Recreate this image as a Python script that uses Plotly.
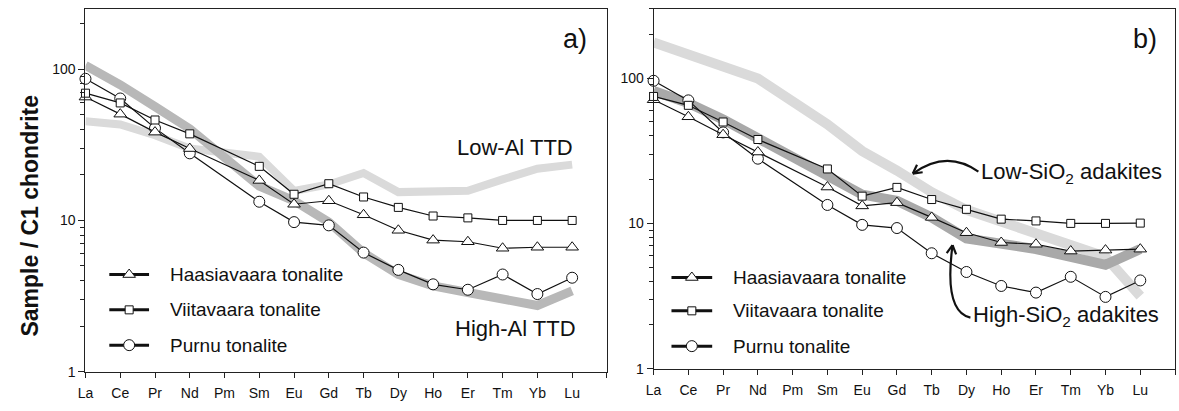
import numpy as np
import plotly.graph_objects as go

elements = ["La", "Ce", "Pr", "Nd", "Pm", "Sm", "Eu", "Gd", "Tb", "Dy", "Ho", "Er", "Tm", "Yb", "Lu"]
N = None

# Panel a)
a_haasiavaara = [65.5, 50.5, 38.4, 29.9, N, 18.4, 12.8, 13.5, 10.9, 8.61, 7.41, 7.23, 6.55, 6.65, 6.65]
a_viitavaara = [69.5, 59.9, 46.2, 37.4, N, 22.8, 14.9, 17.5, 14.3, 12.2, 10.7, 10.4, 10.0, 10.0, 10.0]
a_purnu = [86.5, 64.1, 40.8, 27.8, N, 13.3, 9.75, 9.28, 6.13, 4.71, 3.78, 3.48, 4.39, 3.26, 4.18]
low_al_ttd = [45.3, 43.1, 36.6, 29.9, N, 26.4, 15.7, 17.3, 20.6, 15.4, 15.4, 15.7, 18.7, 22.0, 23.4]
high_al_ttd = [106, 79, 56.6, 40.4, N, 16.9, 13.5, 9.75, 6.1, 4.39, 3.69, 3.34, 3.02, 2.74, 3.42]

# Panel b)
b_haasiavaara = [71.0, 54.2, 40.8, 31.0, N, 17.8, 13.2, 13.9, 11.0, 8.63, 7.39, 7.19, 6.45, 6.55, 6.65]
b_viitavaara = [74.8, 65.0, 49.9, 37.8, N, 23.7, 15.4, 17.7, 14.6, 12.5, 10.7, 10.4, 10.0, 10.0, 10.05]
b_purnu = [95.9, 70.3, 42.3, 27.9, N, 13.4, 9.77, 9.29, 6.23, 4.63, 3.71, 3.34, 4.29, 3.12, 4.05]
low_sio2_adakites = [176, 147, 122, 99.4, N, 48.1, 31.5, 23.1, 16.4, 12.4, 10.3, 8.54, 7.08, 5.88, 3.16]
high_sio2_adakites = [81.6, 67.4, 52.0, 38.7, N, 22.1, 15.8, 14.3, 11.0, 7.89, 7.31, 6.66, 5.88, 5.19, 6.66]

series_names = ["Haasiavaara tonalite", "Viitavaara tonalite", "Purnu tonalite"]
y_ticks = [1, 10, 100]

FONT = "Liberation Sans, Arial, sans-serif"
W, H = 1179, 411
x = list(range(len(elements)))

fig = go.Figure()

def band(xa, ya, vals, color, width):
    fig.add_trace(go.Scatter(x=x, y=vals, mode="lines", connectgaps=True,
                             line=dict(color=color, width=width), xaxis=xa, yaxis=ya,
                             showlegend=False, hoverinfo="skip", cliponaxis=False))

def data(xa, ya, vals, symbol, size):
    fig.add_trace(go.Scatter(x=x, y=vals, mode="lines+markers", connectgaps=True,
                             line=dict(color="#111", width=1.2),
                             marker=dict(symbol=symbol, size=size, color="white",
                                         line=dict(color="#111", width=1)),
                             xaxis=xa, yaxis=ya, showlegend=False, cliponaxis=False))

LIGHT = "#dadada"
DARK_A = "#b8b8b8"
DARK_B = "#a9a9a9"

band("x", "y", low_al_ttd, LIGHT, 8)
band("x", "y", high_al_ttd, DARK_A, 9)
data("x", "y", a_purnu, "circle", 11)
data("x", "y", a_haasiavaara, "triangle-up", 11)
data("x", "y", a_viitavaara, "square", 8)

band("x2", "y2", low_sio2_adakites, LIGHT, 10)
band("x2", "y2", high_sio2_adakites, DARK_B, 10)
data("x2", "y2", b_purnu, "circle", 11)
data("x2", "y2", b_haasiavaara, "triangle-up", 11)
data("x2", "y2", b_viitavaara, "square", 8)

# ---- custom legends (overlay pixel axis) ----
symbols = ["triangle-up", "square", "circle"]
msizes = [11, 8, 11]
shapes = []
annotations = []
for (lx0, lx1, tx, rows) in [(102, 142, 161, [280, 316, 352]), (668, 709, 728, [283, 317, 353])]:
    for name, sym, ms, ry in zip(series_names, symbols, msizes, rows):
        fig.add_trace(go.Scatter(x=[lx0, lx1], y=[ry, ry], mode="lines",
                                 line=dict(color="#111", width=3),
                                 xaxis="x3", yaxis="y3", showlegend=False, hoverinfo="skip"))
        fig.add_trace(go.Scatter(x=[(lx0 + lx1) / 2], y=[ry], mode="markers",
                                 marker=dict(symbol=sym, size=ms, color="white", line=dict(color="#111", width=1)),
                                 xaxis="x3", yaxis="y3", showlegend=False, hoverinfo="skip"))
        annotations.append(dict(x=tx, y=ry, xref="x3", yref="y3", text=name, showarrow=False,
                                xanchor="left", yanchor="middle", font=dict(size=19, family=FONT, color="#111")))

# texts
def txt(t, px, py, size, anchor="left", **kw):
    annotations.append(dict(x=px, y=py, xref="x3", yref="y3", text=t, showarrow=False,
                            xanchor=anchor, yanchor="middle", font=dict(size=size, family=FONT, color="#111"), **kw))

txt("a)", 585, 40, 27, "right")
txt("b)", 1159, 40, 27, "right")
txt("Low-Al TTD", 571, 150, 22, "right")
txt("High-Al TTD", 574, 335, 22, "right")
txt("Low-SiO<sub>2</sub> adakites", 978, 176, 22, "left")
txt("High-SiO<sub>2</sub> adakites", 970, 322, 22, "left")
annotations.append(dict(x=22, y=220, xref="x3", yref="y3", text="<b>Sample / C1 chondrite</b>",
                        showarrow=False, textangle=-90, font=dict(size=23, family=FONT, color="#111")))

# curved arrows
def curved_arrow(p0, c, p1):
    shapes.append(dict(type="path", xref="x3", yref="y3",
                       path=f"M {p0[0]},{p0[1]} Q {c[0]},{c[1]} {p1[0]},{p1[1]}",
                       line=dict(color="#111", width=2.2)))
    d = np.array(p1, float) - np.array(c, float)
    d /= np.linalg.norm(d)
    L = 10
    for ang in (0.5, -0.5):
        rot = np.array([[np.cos(ang), -np.sin(ang)], [np.sin(ang), np.cos(ang)]])
        b = np.array(p1, float) - L * rot @ d
        shapes.append(dict(type="line", xref="x3", yref="y3", x0=p1[0], y0=p1[1], x1=b[0], y1=b[1],
                           line=dict(color="#111", width=2.2)))

curved_arrow((977, 175), (945, 152), (911, 177))
curved_arrow((969, 324), (942, 318), (951, 250))

axis_common = dict(showgrid=False, zeroline=False, showline=True, linecolor="#222", linewidth=1,
                   mirror=True, ticks="outside", tickcolor="#222", tickfont=dict(size=14, family=FONT, color="#111"))

xt = list(range(len(elements) + 1))
xtt = elements + [""]
xax = dict(axis_common, range=[0, 15], tickmode="array", tickvals=xt, ticktext=xtt, ticklen=5,
           ticklabelstandoff=4)
minor_vals = [2, 3, 4, 5, 6, 7, 8, 9, 20, 30, 40, 50, 60, 70, 80, 90, 200, 300]
yax = dict(axis_common, type="log", tickmode="array", tickvals=y_ticks, ticktext=[str(v) for v in y_ticks],
           ticklen=6, minor=dict(ticks="outside", ticklen=4, tickcolor="#222", tickvals=minor_vals))

fig.update_layout(
    width=W, height=H, margin=dict(l=0, r=0, t=0, b=0),
    paper_bgcolor="white", plot_bgcolor="rgba(0,0,0,0)", showlegend=False,
    font=dict(family=FONT, color="#111"),
    xaxis=dict(xax, domain=[78 / W, 603 / W], anchor="y"),
    yaxis=dict(yax, domain=[1 - 379 / H, 1 - 9 / H], range=[0, 2.4], anchor="x"),
    xaxis2=dict(xax, domain=[650 / W, 1175 / W], anchor="y2"),
    yaxis2=dict(yax, domain=[1 - 376 / H, 1 - 9 / H], range=[0, np.log10(300)], anchor="x2"),
    xaxis3=dict(domain=[0, 1], range=[0, W], visible=False, anchor="y3", fixedrange=True),
    yaxis3=dict(domain=[0, 1], range=[H, 0], visible=False, anchor="x3", fixedrange=True),
    shapes=shapes, annotations=annotations,
)

fig.write_html("out.html")
